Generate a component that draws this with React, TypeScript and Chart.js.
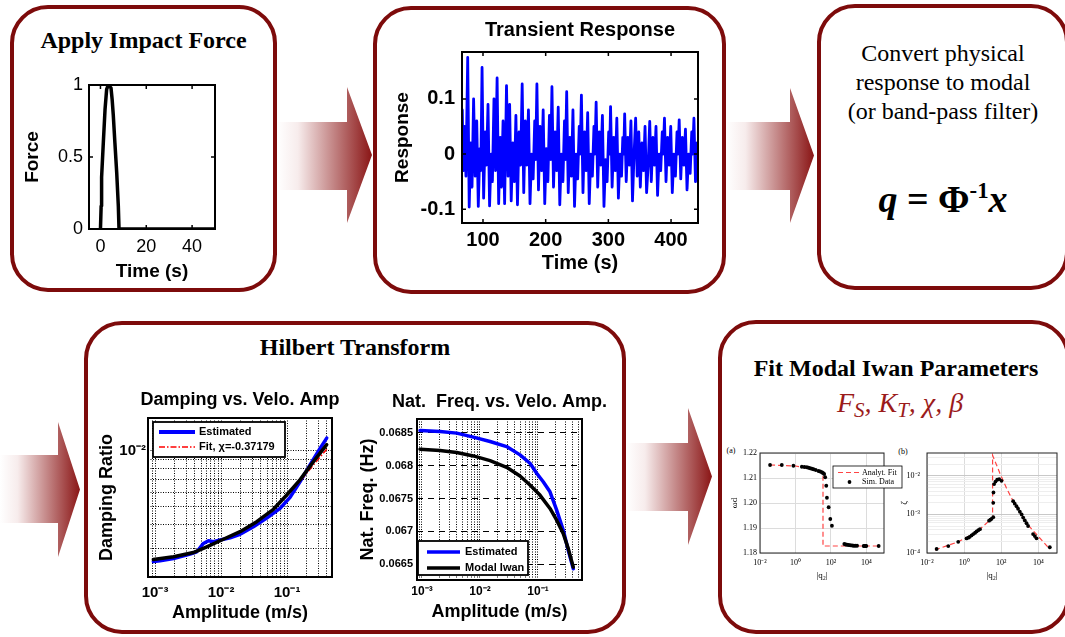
import React, { useEffect, useRef } from 'react';
import { Chart, registerables } from 'chart.js';

Chart.register(...registerables);

const SANS = '"Liberation Sans", Arial, Helvetica, sans-serif';
const SERIF = '"Liberation Serif", "Times New Roman", Times, serif';
const BORDER = '#7d0b0b';

// ---------------- data ----------------
// Apply Impact Force
const forceTime = [0, 0.3, 0.5, 1.25, 2.0, 2.7, 3.4, 4.6, 5.1, 5.6, 6.3, 7.1, 7.8, 8.1, 50];
const forceValue = [0, 0.16, 0.36, 0.6, 0.83, 0.97, 1.0, 0.98, 0.9, 0.79, 0.6, 0.39, 0.16, 0, 0];
const forceXTicks = [0, 20, 40];
const forceXLabels = ['0', '20', '40'];
const forceYTicks = [0, 0.5, 1];
const forceYLabels = ['0', '0.5', '1'];

// Transient Response
const respTime = [
  67.0, 68.5, 70.5, 72.8, 75.6, 78.0, 80.5, 82.5, 85.0, 87.5,
  90.0, 92.5, 95.0, 96.5, 98.5, 101.0, 103.5, 105.5, 108.0, 110.5,
  113.0, 115.0, 117.5, 120.0, 122.5, 125.0, 127.5, 129.5, 132.0, 134.5,
  137.5, 140.0, 142.5, 145.0, 147.5, 150.0, 152.5, 155.0, 157.5, 160.0,
  162.5, 165.0, 167.5, 170.0, 172.5, 175.0, 177.5, 180.0, 182.5, 184.0,
  186.0, 188.5, 191.0, 193.5, 196.0, 198.5, 201.0, 203.5, 206.0, 208.0,
  210.0, 212.5, 215.0, 217.5, 220.0, 222.5, 225.0, 227.5, 230.0, 231.5,
  233.5, 236.0, 238.5, 241.0, 243.5, 246.0, 248.5, 251.0, 253.5, 255.0,
  257.0, 259.5, 262.0, 264.5, 267.0, 269.5, 272.0, 274.5, 277.0, 278.5,
  280.5, 283.0, 285.5, 288.0, 290.5, 293.0, 295.5, 298.0, 300.5, 302.0,
  303.5, 306.0, 308.5, 311.0, 313.5, 316.0, 318.5, 321.0, 323.0, 324.5,
  326.0, 328.5, 331.0, 333.5, 336.0, 338.5, 341.0, 343.5, 346.0, 348.5,
  351.0, 353.5, 356.0, 358.5, 361.0, 363.5, 366.0, 368.5, 371.0, 373.5,
  376.0, 378.5, 381.0, 383.5, 386.0, 387.5, 389.5, 392.0, 394.5, 397.0,
  399.5, 402.0, 404.5, 407.0, 409.5, 411.0, 413.0, 415.5, 418.0, 420.5,
  423.0, 425.5, 428.0, 430.5, 433.0, 434.5, 436.5, 439.0, 441.5, 443.0,
];
const respValue = [
  0.080, -0.030, 0.050, -0.040, 0.175, -0.096, 0.020, -0.060, 0.100, -0.040,
  0.060, -0.095, 0.010, -0.030, 0.157, -0.080, 0.040, -0.020, 0.090, -0.094,
  0.000, -0.050, 0.100, -0.030, 0.138, -0.090, 0.030, -0.060, 0.060, -0.090,
  0.124, -0.040, 0.090, -0.085, 0.020, -0.050, 0.070, -0.092, 0.040, -0.020,
  0.127, -0.070, 0.060, -0.020, 0.080, -0.090, 0.000, -0.045, 0.060, -0.010,
  0.127, -0.065, 0.050, -0.030, 0.080, -0.090, 0.010, -0.050, 0.070, -0.010,
  0.122, -0.060, 0.040, -0.030, 0.085, -0.092, 0.000, -0.050, 0.060, -0.010,
  0.113, -0.070, 0.030, -0.040, 0.080, -0.095, 0.000, -0.045, 0.050, 0.000,
  0.107, -0.070, 0.040, -0.030, 0.075, -0.090, 0.000, -0.040, 0.050, 0.000,
  0.094, -0.060, 0.040, -0.020, 0.070, -0.095, -0.010, -0.050, 0.040, 0.000,
  0.086, -0.060, 0.030, -0.030, 0.065, -0.080, 0.000, -0.040, 0.030, 0.000,
  0.073, -0.050, 0.030, -0.020, 0.060, -0.085, 0.000, 0.065, -0.040, 0.040,
  -0.060, 0.020, -0.030, 0.050, -0.070, -0.020, 0.059, -0.050, 0.030, -0.020,
  0.050, -0.075, 0.000, -0.030, 0.040, 0.000, 0.065, -0.050, 0.030, -0.020,
  0.050, -0.070, 0.000, -0.040, 0.040, 0.000, 0.062, -0.045, 0.030, -0.020,
  0.045, -0.065, 0.000, -0.035, 0.040, 0.000, 0.065, -0.050, 0.020, -0.010,
];
const respXTicks = [100, 200, 300, 400];
const respXLabels = ['100', '200', '300', '400'];
const respYTicks = [-0.1, 0, 0.1];
const respYLabels = ['-0.1', '0', '0.1'];

// Damping vs. Velo. Amp
const dampEstAmp = [9.4e-4, 1.19e-3, 1.9e-3, 3.39e-3, 4.28e-3, 5.4e-3, 6.43e-3, 7.66e-3, 9.66e-3, 1.37e-2, 1.94e-2, 3.09e-2, 4.92e-2, 7.83e-2, 0.111, 0.157, 0.223, 0.316, 0.399];
const dampEstVal = [2.54e-3, 2.57e-3, 2.64e-3, 2.79e-3, 2.87e-3, 3.18e-3, 3.29e-3, 3.25e-3, 3.32e-3, 3.41e-3, 3.56e-3, 3.91e-3, 4.35e-3, 4.91e-3, 5.62e-3, 6.82e-3, 8.39e-3, 1.03e-2, 1.17e-2];
const dampFitAmp = [9.4e-4, 1.9e-3, 3.8e-3, 6.07e-3, 1.08e-2, 1.94e-2, 3.47e-2, 6.21e-2, 9.89e-2, 0.157, 0.251, 0.399];
const dampFitVal = [2.61e-3, 2.70e-3, 2.84e-3, 3.05e-3, 3.35e-3, 3.68e-3, 4.16e-3, 4.85e-3, 5.75e-3, 6.85e-3, 8.39e-3, 1.02e-2];
const dampModalAmp = [9.4e-4, 1.9e-3, 3.8e-3, 6.07e-3, 1.08e-2, 1.94e-2, 3.47e-2, 6.21e-2, 9.89e-2, 0.157, 0.251, 0.399];
const dampModalVal = [2.61e-3, 2.70e-3, 2.84e-3, 3.05e-3, 3.35e-3, 3.68e-3, 4.16e-3, 4.85e-3, 5.79e-3, 6.98e-3, 8.75e-3, 1.08e-2];
const dampXGrid = [8e-4, 9e-4, 1e-3, 2e-3, 3e-3, 4e-3, 5e-3, 6e-3, 7e-3, 8e-3, 9e-3, 1e-2, 2e-2, 3e-2, 4e-2, 5e-2, 6e-2, 7e-2, 8e-2, 9e-2, 0.1, 0.2, 0.3, 0.4];
const dampXMajor = [1e-3, 1e-2, 1e-1];
const dampXLabels = ['10\u207B\u00B3', '10\u207B\u00B2', '10\u207B\u00B9'];
const dampYGrid = [3e-3, 4e-3, 5e-3, 6e-3, 7e-3, 8e-3, 9e-3, 1e-2];
const dampYMajor = [1e-2];
const dampYLabels = ['10\u207B\u00B2'];

// Nat. Freq. vs. Velo. Amp.
const freqEstAmp = [9.24e-4, 2.04e-3, 3.96e-3, 7.68e-3, 1.49e-2, 2.88e-2, 4.9e-2, 7.28e-2, 9.5e-2, 0.123, 0.161, 0.21, 0.273, 0.333, 0.406];
const freqEstVal = [0.068535, 0.06852, 0.068495, 0.068434, 0.068367, 0.06829, 0.068164, 0.068037, 0.067884, 0.067755, 0.067602, 0.067323, 0.067017, 0.066711, 0.066431];
const freqModalAmp = [9.24e-4, 2.04e-3, 3.96e-3, 7.68e-3, 1.49e-2, 2.88e-2, 4.9e-2, 7.28e-2, 0.108, 0.161, 0.21, 0.273, 0.333, 0.406];
const freqModalVal = [0.068251, 0.068229, 0.068199, 0.068148, 0.068076, 0.067975, 0.067843, 0.067705, 0.067552, 0.067349, 0.06717, 0.066966, 0.066737, 0.066456];
const freqXGrid = [9e-4, 1e-3, 2e-3, 3e-3, 4e-3, 5e-3, 6e-3, 7e-3, 8e-3, 9e-3, 1e-2, 2e-2, 3e-2, 4e-2, 5e-2, 6e-2, 7e-2, 8e-2, 9e-2, 0.1, 0.2, 0.3, 0.4, 0.5];
const freqXMajor = [1e-3, 1e-2, 1e-1];
const freqXLabels = ['10\u207B\u00B3', '10\u207B\u00B2', '10\u207B\u00B9'];
const freqYTicks = [0.0665, 0.067, 0.0675, 0.068, 0.0685];
const freqYLabels = ['0.0665', '0.067', '0.0675', '0.068', '0.0685'];

// (a) omega_d vs |q2|
const fitASimQ = [0.037, 0.17, 0.77, 2.3, 3.2, 4.4, 5.5, 6.8, 8.5, 10.5, 14, 20, 25, 31, 36, 42, 48, 55, 60, 75, 93, 115, 575, 700, 813, 1000, 1260, 1600, 1950, 2400, 3020, 7100, 8000, 8900, 10000, 50000];
const fitASimW = [1.2152, 1.2152, 1.2149, 1.2145, 1.2144, 1.2143, 1.2141, 1.2139, 1.2137, 1.2135, 1.2132, 1.2128, 1.2126, 1.2123, 1.2120, 1.2116, 1.2103, 1.2069, 1.2021, 1.1983, 1.1936, 1.1909, 1.1836, 1.1834, 1.1833, 1.1832, 1.1831, 1.1830, 1.1829, 1.1829, 1.1829, 1.1828, 1.1828, 1.1828, 1.1828, 1.1828];
const fitAFitQ = [0.037, 1, 10, 25, 34, 36, 36, 50000];
const fitAFitW = [1.2152, 1.2148, 1.2135, 1.2124, 1.2117, 1.2108, 1.1828, 1.1828];
const fitAXTicks = [1e-2, 1, 1e2, 1e4];
const fitAXLabels = ['10\u207B\u00B2', '10\u2070', '10\u00B2', '10\u2074'];
const fitAYTicks = [1.18, 1.19, 1.2, 1.21, 1.22];
const fitAYLabels = ['1.18', '1.19', '1.20', '1.21', '1.22'];

// (b) zeta vs |q2|
const fitBSimQ = [0.033, 0.14, 0.48, 1.35, 1.7, 2.0, 2.5, 3.1, 3.9, 4.7, 5.8, 7.1, 22, 26, 30, 37, 37, 38, 41, 49, 60, 77, 103, 436, 530, 660, 800, 1000, 1250, 1510, 1850, 2290, 2770, 5150, 6400, 7900, 41000];
const fitBSimZ = [1.27e-4, 1.51e-4, 1.95e-4, 2.38e-4, 2.5e-4, 2.63e-4, 2.85e-4, 3.09e-4, 3.35e-4, 3.63e-4, 3.9e-4, 4.14e-4, 6.9e-4, 7.3e-4, 7.7e-4, 8.5e-4, 2.0e-3, 3.7e-3, 6.1e-3, 7.1e-3, 7.9e-3, 8.2e-3, 7.4e-3, 2.2e-3, 1.9e-3, 1.63e-3, 1.4e-3, 1.17e-3, 1.0e-3, 8.3e-4, 7.0e-4, 5.9e-4, 5.0e-4, 3.1e-4, 2.75e-4, 2.4e-4, 1.41e-4];
const fitBFitQ = [0.027, 0.48, 3.1, 7.1, 20, 34, 34, 84, 190, 436, 2290, 41000];
const fitBFitZ = [1.2e-4, 1.95e-4, 3.09e-4, 4.14e-4, 6.5e-4, 8.5e-4, 3.4e-2, 1.17e-2, 4.8e-3, 2.2e-3, 5.9e-4, 1.25e-4];
const fitBXTicks = [1e-2, 1, 1e2, 1e4];
const fitBXLabels = ['10\u207B\u00B2', '10\u2070', '10\u00B2', '10\u2074'];
const fitBYGrid = [1e-4, 2e-4, 3e-4, 4e-4, 5e-4, 6e-4, 7e-4, 8e-4, 9e-4, 1e-3, 2e-3, 3e-3, 4e-3, 5e-3, 6e-3, 7e-3, 8e-3, 9e-3, 1e-2, 2e-2, 3e-2];
const fitBYMajor = [1e-4, 1e-3, 1e-2];
const fitBYLabels = ['10\u207B\u2074', '10\u207B\u00B3', '10\u207B\u00B2'];

// ---------------- helpers ----------------
const pts = (xs: number[], ys: number[]) => xs.map((x, i) => ({ x, y: ys[i] }));

const linLabel = (vals: number[], labels: string[]) => (v: number) => {
  const i = vals.findIndex((m) => Math.abs(m - v) < 1e-9);
  return i >= 0 ? labels[i] : '';
};
const logLabel = (vals: number[], labels: string[]) => (v: number) => {
  const i = vals.findIndex((m) => Math.abs(Math.log10(m) - Math.log10(v)) < 1e-6);
  return i >= 0 ? labels[i] : '';
};

const font = (family: string, size: number, weight: string = 'normal') => ({ family, size, weight, lineHeight: 1.2 });

interface AxisOpt {
  type: 'linear' | 'logarithmic';
  position: 'left' | 'bottom';
  min: number;
  max: number;
  ticks: number[];
  label: (v: number) => string;
  size: number;
  font: any;
  pad: number;
  title?: string;
  titleFont?: any;
  titlePad?: number;
  grid?: { color: any; width: number; dash?: number[] };
}

function axis(o: AxisOpt) {
  const isX = o.position === 'bottom';
  return {
    type: o.type,
    position: o.position,
    min: o.min,
    max: o.max,
    afterBuildTicks: (s: any) => {
      s.ticks = o.ticks.map((value) => ({ value }));
    },
    afterFit: (s: any) => {
      if (isX) s.height = o.size;
      else s.width = o.size;
    },
    ticks: {
      autoSkip: false,
      maxRotation: 0,
      minRotation: 0,
      padding: o.pad,
      color: '#000',
      font: o.font,
      callback: (v: any) => o.label(Number(v)),
    },
    grid: o.grid
      ? { display: true, drawTicks: false, drawOnChartArea: true, color: o.grid.color, lineWidth: o.grid.width }
      : { display: false, drawTicks: false },
    border: { display: false, dash: o.grid && o.grid.dash ? o.grid.dash : [] },
    title: o.title
      ? {
          display: true,
          text: o.title,
          color: '#000',
          font: o.titleFont,
          padding: isX ? { top: 0, bottom: o.titlePad || 0 } : { top: o.titlePad || 0, bottom: 0 },
        }
      : { display: false },
  };
}

// right-hand box mirroring the y-axis width so the chart title centres over the plot
const mirrorAxis = (w: number) => ({
  type: 'linear',
  position: 'right',
  display: true,
  grid: { display: false, drawTicks: false },
  border: { display: false },
  ticks: { display: false },
  afterFit: (s: any) => {
    s.width = w;
  },
});

const extrasPlugin = {
  id: 'extras',
  afterDatasetsDraw(chart: any, _args: any, opts: any) {
    const { ctx, chartArea: a } = chart;
    ctx.save();
    if (opts.tickLen) {
      const L = opts.tickLen;
      ctx.strokeStyle = '#000';
      ctx.lineWidth = opts.tickWidth || 1;
      ctx.beginPath();
      const xs = chart.scales.x;
      const ys = chart.scales.y;
      xs.ticks.forEach((t: any) => {
        const p = xs.getPixelForValue(t.value);
        ctx.moveTo(p, a.bottom);
        ctx.lineTo(p, a.bottom - L);
        ctx.moveTo(p, a.top);
        ctx.lineTo(p, a.top + L);
      });
      ys.ticks.forEach((t: any) => {
        const p = ys.getPixelForValue(t.value);
        ctx.moveTo(a.left, p);
        ctx.lineTo(a.left + L, p);
        ctx.moveTo(a.right, p);
        ctx.lineTo(a.right - L, p);
      });
      ctx.stroke();
    }
    if (opts.box) {
      ctx.strokeStyle = opts.box.color;
      ctx.lineWidth = opts.box.width;
      ctx.strokeRect(a.left, a.top, a.right - a.left, a.bottom - a.top);
    }
    const lg = opts.legend;
    if (lg) {
      const x0 = a.left + lg.x;
      const y0 = a.top + lg.y;
      ctx.fillStyle = '#fff';
      ctx.fillRect(x0, y0, lg.w, lg.h);
      ctx.strokeStyle = '#000';
      ctx.lineWidth = lg.border;
      ctx.strokeRect(x0, y0, lg.w, lg.h);
      lg.items.forEach((di: number, i: number) => {
        const ds = chart.data.datasets[di];
        const y = y0 + lg.rows[i];
        if (ds.showLine === false) {
          ctx.fillStyle = ds.pointBackgroundColor;
          ctx.beginPath();
          ctx.arc(x0 + (lg.lineX0 + lg.lineX1) / 2, y, ds.pointRadius, 0, Math.PI * 2);
          ctx.fill();
        } else {
          ctx.strokeStyle = ds.borderColor;
          ctx.lineWidth = lg.lineWidths ? lg.lineWidths[i] : ds.borderWidth;
          ctx.setLineDash(ds.borderDash || []);
          ctx.beginPath();
          ctx.moveTo(x0 + lg.lineX0, y);
          ctx.lineTo(x0 + lg.lineX1, y);
          ctx.stroke();
          ctx.setLineDash([]);
        }
        ctx.fillStyle = '#000';
        ctx.font = lg.font;
        ctx.textAlign = 'left';
        ctx.textBaseline = 'middle';
        ctx.fillText(ds.label, x0 + lg.textX, y);
      });
    }
    ctx.restore();
  },
};

const baseOptions = (padding: any, plugins: any, scales: any) => ({
  animation: false,
  responsive: false,
  devicePixelRatio: 1,
  events: [],
  layout: { padding },
  plugins: { legend: { display: false }, tooltip: { enabled: false }, ...plugins },
  scales,
});

const chartTitle = (text: string, size: number, bottom: number) => ({
  display: true,
  text,
  color: '#000',
  fullSize: true,
  font: font(SANS, size, 'bold'),
  padding: { top: 0, bottom },
});

const lineDs = (label: string, data: any[], color: string, width: number, extra: any = {}) => ({
  label,
  data,
  showLine: true,
  borderColor: color,
  backgroundColor: color,
  borderWidth: width,
  pointRadius: 0,
  tension: 0,
  fill: false,
  borderJoinStyle: 'round',
  borderCapStyle: 'round',
  ...extra,
});

const dotDs = (label: string, data: any[], r: number) => ({
  label,
  data,
  showLine: false,
  pointRadius: r,
  pointBackgroundColor: '#000',
  pointBorderWidth: 0,
  borderColor: '#000',
});

const MATLAB_GRID = { color: '#000', width: 1, dash: [1, 1.5] };

// ---------------- chart specs ----------------
interface Spec {
  left: number;
  top: number;
  width: number;
  height: number;
  make: () => any;
}

const SPECS: Spec[] = [
  {
    left: 20, top: 60, width: 205, height: 225,
    make: () => ({
      type: 'scatter',
      data: { datasets: [lineDs('Force', pts(forceTime, forceValue), '#000', 3.5)] },
      options: baseOptions(
        { top: 25, right: 10, left: 0, bottom: 0 },
        { title: { display: false }, extras: { box: { color: '#000', width: 2 }, tickLen: 4, tickWidth: 1.5 } },
        {
          x: axis({ type: 'linear', position: 'bottom', min: -5, max: 50, ticks: forceXTicks, label: linLabel(forceXTicks, forceXLabels), size: 56, font: font(SANS, 18), pad: 7, title: 'Time (s)', titleFont: font(SANS, 19, 'bold'), titlePad: 1.6 }),
          y: axis({ type: 'linear', position: 'left', min: 0, max: 1, ticks: forceYTicks, label: linLabel(forceYTicks, forceYLabels), size: 69, font: font(SANS, 18), pad: 6, title: 'Force', titleFont: font(SANS, 19, 'bold'), titlePad: 1.6 }),
        }
      ),
      plugins: [extrasPlugin],
    }),
  },
  {
    left: 385, top: 18, width: 390, height: 267,
    make: () => ({
      type: 'scatter',
      data: { datasets: [lineDs('Response', pts(respTime, respValue), '#0000ff', 2.8)] },
      options: baseOptions(
        { top: 0, right: 0, left: 0, bottom: 0 },
        { title: chartTitle('Transient Response', 20, 10), extras: { box: { color: '#000', width: 2 }, tickLen: 4, tickWidth: 1.5 } },
        {
          x: axis({ type: 'linear', position: 'bottom', min: 66.5, max: 443, ticks: respXTicks, label: linLabel(respXTicks, respXLabels), size: 62, font: font(SANS, 20, 'bold'), pad: 5, title: 'Time (s)', titleFont: font(SANS, 20, 'bold'), titlePad: 10 }),
          y: axis({ type: 'linear', position: 'left', min: -0.125, max: 0.185, ticks: respYTicks, label: linLabel(respYTicks, respYLabels), size: 77, font: font(SANS, 20, 'bold'), pad: 7, title: 'Response', titleFont: font(SANS, 19, 'bold'), titlePad: 6.6 }),
          yr: mirrorAxis(77),
        }
      ),
      plugins: [extrasPlugin],
    }),
  },
  {
    left: 96, top: 389, width: 288, height: 236,
    make: () => ({
      type: 'scatter',
      data: {
        datasets: [
          lineDs('Modal Iwan', pts(dampModalAmp, dampModalVal), '#000', 3.5),
          lineDs('Fit, \u03C7=-0.37179', pts(dampFitAmp, dampFitVal), '#ff0000', 1.5, { borderDash: [6, 2, 1.5, 2], borderCapStyle: 'butt' }),
          lineDs('Estimated', pts(dampEstAmp, dampEstVal), '#0000ff', 3.5),
        ],
      },
      options: baseOptions(
        { top: 0, right: 0, left: 0, bottom: 0 },
        {
          title: chartTitle('Damping vs. Velo. Amp', 18, 7.4),
          extras: {
            box: { color: '#000', width: 2 },
            legend: { x: 5, y: 4, w: 132, h: 35, rows: [10, 25], lineX0: 6, lineX1: 42, textX: 46, font: `bold 11px ${SANS}`, border: 1.8, items: [2, 1], lineWidths: [4, 1.5] },
          },
        },
        {
          x: axis({ type: 'logarithmic', position: 'bottom', min: 7.8e-4, max: 0.48, ticks: dampXGrid, label: logLabel(dampXMajor, dampXLabels), size: 48, font: font(SANS, 15, 'bold'), pad: 7, title: 'Amplitude (m/s)', titleFont: font(SANS, 18, 'bold'), titlePad: 1.2, grid: MATLAB_GRID }),
          y: axis({ type: 'logarithmic', position: 'left', min: 2.1e-3, max: 1.5e-2, ticks: dampYGrid, label: logLabel(dampYMajor, dampYLabels), size: 52, font: font(SANS, 15, 'bold'), pad: 2, title: 'Damping Ratio', titleFont: font(SANS, 18, 'bold'), titlePad: 0.2, grid: MATLAB_GRID }),
          yr: mirrorAxis(52),
        }
      ),
      plugins: [extrasPlugin],
    }),
  },
  {
    left: 355, top: 391, width: 289, height: 234,
    make: () => ({
      type: 'scatter',
      data: {
        datasets: [
          lineDs('Modal Iwan', pts(freqModalAmp, freqModalVal), '#000', 3.5),
          lineDs('Estimated', pts(freqEstAmp, freqEstVal), '#0000ff', 3.5),
        ],
      },
      options: baseOptions(
        { top: 0, right: 0, left: 0, bottom: 0 },
        {
          title: chartTitle('Nat.  Freq. vs. Velo. Amp.', 18, 6.4),
          extras: {
            box: { color: '#000', width: 2 },
            legend: { x: 1, y: 122, w: 110, h: 34, rows: [11, 27], lineX0: 9, lineX1: 42, textX: 47, font: `bold 11px ${SANS}`, border: 1.8, items: [1, 0], lineWidths: [3.5, 3.5] },
          },
        },
        {
          x: axis({ type: 'logarithmic', position: 'bottom', min: 8.2e-4, max: 0.574, ticks: freqXGrid, label: logLabel(freqXMajor, freqXLabels), size: 45, font: font(SANS, 12, 'bold'), pad: 4.8, title: 'Amplitude (m/s)', titleFont: font(SANS, 18, 'bold'), titlePad: 2.2, grid: MATLAB_GRID }),
          y: axis({ type: 'linear', position: 'left', min: 0.06626, max: 0.06871, ticks: freqYTicks, label: linLabel(freqYTicks, freqYLabels), size: 62, font: font(SANS, 11, 'bold'), pad: 4, title: 'Nat. Freq. (Hz)', titleFont: font(SANS, 18, 'bold'), titlePad: 2.2, grid: { color: '#000', width: 1, dash: [6, 5] } }),
          yr: mirrorAxis(62),
        }
      ),
      plugins: [extrasPlugin],
    }),
  },
  {
    left: 728, top: 438, width: 178, height: 147,
    make: () => ({
      type: 'scatter',
      data: {
        datasets: [
          dotDs('Sim. Data', pts(fitASimQ, fitASimW), 1.9),
          lineDs('Analyt. Fit', pts(fitAFitQ, fitAFitW), '#ff4444', 1.2, { borderDash: [5, 3], borderCapStyle: 'butt', borderJoinStyle: 'miter' }),
        ],
      },
      options: baseOptions(
        { top: 15, right: 22, left: 0, bottom: 0 },
        {
          title: { display: false },
          extras: {
            box: { color: '#222', width: 1 },
            legend: { x: 73, y: 13, w: 69, h: 22, rows: [6.5, 16], lineX0: 5, lineX1: 28, textX: 29, font: `8px ${SERIF}`, border: 0.8, items: [1, 0], lineWidths: [1, 1] },
          },
        },
        {
          x: axis({ type: 'logarithmic', position: 'bottom', min: 1e-2, max: 1e5, ticks: fitAXTicks, label: logLabel(fitAXTicks, fitAXLabels), size: 32, font: font(SERIF, 8), pad: 5.2, title: '|q\u2082|', titleFont: font(SERIF, 9), titlePad: 3.6, grid: { color: '#dcdcdc', width: 1 } }),
          y: axis({ type: 'linear', position: 'left', min: 1.18, max: 1.22, ticks: fitAYTicks, label: linLabel(fitAYTicks, fitAYLabels), size: 32, font: font(SERIF, 8), pad: 3, title: '\u03C9d', titleFont: font(SERIF, 9), titlePad: 1.6, grid: { color: '#dcdcdc', width: 1 } }),
        }
      ),
      plugins: [extrasPlugin],
    }),
  },
  {
    left: 898, top: 438, width: 164, height: 147,
    make: () => ({
      type: 'scatter',
      data: {
        datasets: [
          dotDs('Sim. Data', pts(fitBSimQ, fitBSimZ), 1.9),
          lineDs('Analyt. Fit', pts(fitBFitQ, fitBFitZ), '#ff4444', 1.2, { borderDash: [5, 3], borderCapStyle: 'butt', borderJoinStyle: 'miter' }),
        ],
      },
      options: baseOptions(
        { top: 15, right: 5, left: 0, bottom: 0 },
        { title: { display: false }, extras: { box: { color: '#222', width: 1 } } },
        {
          x: axis({ type: 'logarithmic', position: 'bottom', min: 1e-2, max: 1e5, ticks: fitBXTicks, label: logLabel(fitBXTicks, fitBXLabels), size: 32, font: font(SERIF, 8), pad: 5.2, title: '|q\u2082|', titleFont: font(SERIF, 9), titlePad: 3.6, grid: { color: '#dcdcdc', width: 1 } }),
          y: axis({
            type: 'logarithmic', position: 'left', min: 1e-4, max: 0.039, ticks: fitBYGrid, label: logLabel(fitBYMajor, fitBYLabels), size: 29, font: font(SERIF, 8), pad: 7, title: '\u03B6', titleFont: font(SERIF, 9), titlePad: 1.6,
            grid: { color: (c: any) => (c.tick && fitBYMajor.some((m) => Math.abs(Math.log10(m) - Math.log10(c.tick.value)) < 1e-6) ? '#c8c8c8' : '#eeeeee'), width: 1 },
          }),
        }
      ),
      plugins: [extrasPlugin],
    }),
  },
];

function ChartCanvas({ spec }: { spec: Spec }) {
  const ref = useRef<HTMLCanvasElement | null>(null);
  useEffect(() => {
    const chart = new Chart(ref.current as HTMLCanvasElement, spec.make());
    return () => chart.destroy();
  }, []);
  return (
    <canvas
      ref={ref}
      width={spec.width}
      height={spec.height}
      style={{ position: 'absolute', left: spec.left, top: spec.top, width: spec.width, height: spec.height }}
    />
  );
}

// ---------------- layout (boxes, arrows, text) ----------------
const BOXES = [
  { l: 10, t: 5, w: 267, h: 287 },
  { l: 373, t: 6, w: 353, h: 288 },
  { l: 817, t: 4, w: 252, h: 286 },
  { l: 84, t: 321, w: 542, h: 313 },
  { l: 718, t: 320, w: 352, h: 314 },
];

const ARROWS = [
  { x0: 277, r0: 122, r1: 190, base: 347, h0: 87, h1: 223, tip: 372 },
  { x0: 726, r0: 122, r1: 190, base: 790, h0: 88, h1: 223, tip: 814 },
  { x0: 0, r0: 455, r1: 523, base: 58, h0: 422, h1: 557, tip: 80 },
  { x0: 626, r0: 443, r1: 511, base: 688, h0: 408, h1: 545, tip: 712 },
];

function Arrows() {
  return (
    <svg width={1065} height={637} style={{ position: 'absolute', left: 0, top: 0 }}>
      <defs>
        {ARROWS.map((a, i) => (
          <linearGradient key={i} id={`arrowGrad${i}`} gradientUnits="userSpaceOnUse" x1={a.x0} y1={0} x2={a.tip} y2={0}>
            <stop offset="0" stopColor="#ffffff" />
            <stop offset="0.22" stopColor="#f7ecec" />
            <stop offset="1" stopColor="#8a1515" />
          </linearGradient>
        ))}
      </defs>
      {ARROWS.map((a, i) => (
        <polygon
          key={i}
          fill={`url(#arrowGrad${i})`}
          points={`${a.x0},${a.r0} ${a.base},${a.r0} ${a.base},${a.h0} ${a.tip},${(a.h0 + a.h1) / 2} ${a.base},${a.h1} ${a.base},${a.r1} ${a.x0},${a.r1}`}
        />
      ))}
    </svg>
  );
}

const textStyle = (left: number, top: number, width: number, size: number, lh: number, extra: any = {}) => ({
  position: 'absolute' as const,
  left,
  top,
  width,
  textAlign: 'center' as const,
  fontFamily: SERIF,
  fontSize: size,
  lineHeight: `${lh}px`,
  color: '#000',
  whiteSpace: 'nowrap' as const,
  ...extra,
});

export default function App() {
  return (
    <div style={{ position: 'fixed', left: 0, top: 0, width: 1065, height: 637, overflow: 'hidden', background: '#fff' }}>
      <Arrows />
      {BOXES.map((b, i) => (
        <div
          key={i}
          style={{
            position: 'absolute',
            left: b.l,
            top: b.t,
            width: b.w,
            height: b.h,
            border: `4px solid ${BORDER}`,
            borderRadius: 38,
            boxSizing: 'border-box',
            background: '#fff',
          }}
        />
      ))}
      <div style={textStyle(10, 26, 267, 24, 28, { fontWeight: 'bold' })}>Apply Impact Force</div>
      <div style={textStyle(817, 38.5, 252, 24, 29.3)}>
        Convert physical
        <br />
        response to modal
        <br />
        (or band-pass filter)
      </div>
      <div style={textStyle(817, 177, 252, 38, 44, { fontWeight: 'bold' })}>
        <i>q</i> = Φ<span style={{ fontSize: '0.6em', position: 'relative', top: '-0.6em' }}>-1</span>
        <i>x</i>
      </div>
      <div style={textStyle(84, 333, 542, 24, 28, { fontWeight: 'bold' })}>Hilbert Transform</div>
      <div style={textStyle(718, 354, 356, 24, 28, { fontWeight: 'bold' })}>Fit Modal Iwan Parameters</div>
      <div style={textStyle(718, 386.5, 364, 28, 32, { fontStyle: 'italic', color: '#9b1b1b' })}>
        F<span style={{ fontSize: '0.75em', position: 'relative', top: '0.25em' }}>S</span>, K
        <span style={{ fontSize: '0.75em', position: 'relative', top: '0.25em' }}>T</span>, χ, β
      </div>
      <div style={textStyle(716, 446, 30, 8, 10)}>(a)</div>
      <div style={textStyle(888, 447, 30, 8, 10)}>(b)</div>
      {SPECS.map((s, i) => (
        <ChartCanvas key={i} spec={s} />
      ))}
    </div>
  );
}
